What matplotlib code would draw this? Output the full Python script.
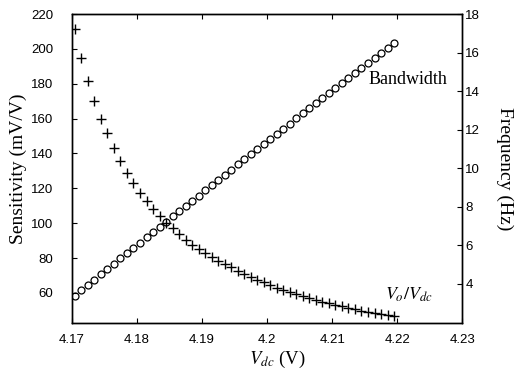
import matplotlib
matplotlib.use("Agg")
from matplotlib import pyplot as plt

# DC bias voltage (V), one sample every mV
vdc = [4.1705, 4.1715, 4.1725, 4.1735, 4.1745, 4.1755, 4.1765, 4.1775, 4.1785, 4.1795,
       4.1805, 4.1815, 4.1825, 4.1835, 4.1845, 4.1855, 4.1865, 4.1875, 4.1885, 4.1895,
       4.1905, 4.1915, 4.1925, 4.1935, 4.1945, 4.1955, 4.1965, 4.1975, 4.1985, 4.1995,
       4.2005, 4.2015, 4.2025, 4.2035, 4.2045, 4.2055, 4.2065, 4.2075, 4.2085, 4.2095,
       4.2105, 4.2115, 4.2125, 4.2135, 4.2145, 4.2155, 4.2165, 4.2175, 4.2185, 4.2195]

# Vo/Vdc sensitivity (mV/V)
sensitivity = [211.5, 195.0, 181.5, 170.0, 160.0, 151.5, 143.0, 135.6, 129.0, 123.0,
               117.5, 112.7, 108.0, 104.1, 100.3, 97.0, 93.8, 90.5, 87.6, 85.0,
               82.7, 80.4, 78.3, 76.4, 74.6, 72.8, 71.0, 69.3, 67.6, 66.0,
               64.5, 63.0, 61.7, 60.4, 59.2, 58.1, 57.0, 56.0, 55.0, 54.0,
               53.0, 52.2, 51.4, 50.6, 49.8, 49.1, 48.4, 47.8, 47.3, 46.8]

# bandwidth (Hz)
bandwidth = [3.40, 3.67, 3.95, 4.22, 4.50, 4.77, 5.05, 5.32, 5.59, 5.87,
             6.14, 6.41, 6.69, 6.96, 7.23, 7.50, 7.77, 8.04, 8.31, 8.58,
             8.85, 9.12, 9.39, 9.66, 9.93, 10.20, 10.46, 10.73, 11.00, 11.26,
             11.53, 11.79, 12.06, 12.32, 12.59, 12.85, 13.12, 13.38, 13.64, 13.91,
             14.17, 14.43, 14.70, 14.96, 15.22, 15.48, 15.74, 16.00, 16.26, 16.50]

xticks = [4.17, 4.18, 4.19, 4.20, 4.21, 4.22, 4.23]
xticklabels = ["4.17", "4.18", "4.19", "4.2", "4.21", "4.22", "4.23"]
sens_ticks = [60, 80, 100, 120, 140, 160, 180, 200, 220]
freq_ticks = [4, 6, 8, 10, 12, 14, 16, 18]

plt.rcParams["font.family"] = ["Liberation Sans", "DejaVu Sans"]
plt.rcParams["mathtext.fontset"] = "stix"
serif = "Liberation Serif"

fig = plt.figure(figsize=(5.15, 3.69), dpi=100)
ax = fig.add_axes([0.139, 0.126, 0.759, 0.836])
ax2 = ax.twinx()

ax.plot(vdc, sensitivity, linestyle="none", marker="+", color="black",
        markersize=7, markeredgewidth=1.0)
ax2.plot(vdc, bandwidth, linestyle="none", marker="o", markerfacecolor="none",
         markeredgecolor="black", markersize=5, markeredgewidth=0.9)

ax.set_xlim(4.17, 4.23)
ax.set_ylim(43, 220)
ax2.set_ylim(2, 18)
ax.set_xticks(xticks)
ax.set_xticklabels(xticklabels)
ax.set_yticks(sens_ticks)
ax2.set_yticks(freq_ticks)

for a in (ax, ax2):
    a.tick_params(direction="in", length=3.5, width=0.8, labelsize=9.5)
    for s in a.spines.values():
        s.set_linewidth(1.0)
ax.tick_params(axis="x", top=True, pad=8)
ax.tick_params(axis="y", pad=13)
ax2.tick_params(axis="y", pad=2)

ax.set_ylabel("Sensitivity (mV/V)", family=serif, fontsize=14, labelpad=3)
ax2.set_ylabel("Frequency (Hz)", family=serif, fontsize=14, rotation=270, labelpad=24)
ax.set_xlabel(r"$V_{dc}$ (V)", family=serif, fontsize=13.5, labelpad=3)
ax.xaxis.set_label_coords(0.525, -0.085)

ax2.text(4.2217, 14.6, "Bandwidth", family=serif, fontsize=13, ha="center", va="center")
ax.text(4.2217, 59, r"$V_o/V_{dc}$", fontsize=13, ha="center", va="center")

fig.savefig("out.png", dpi=100)
